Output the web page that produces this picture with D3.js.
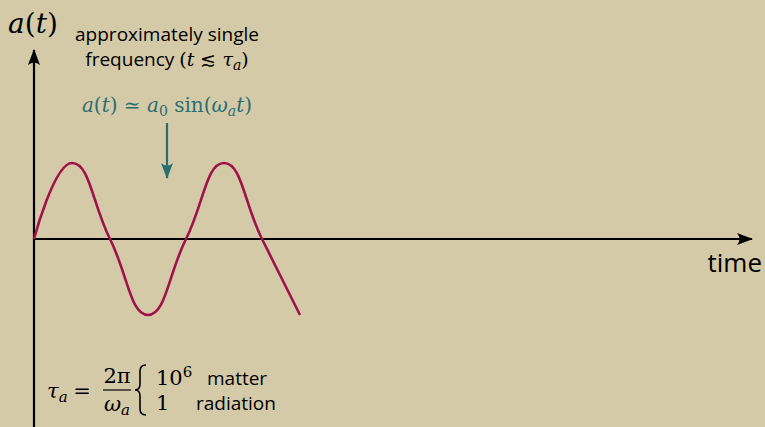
<!DOCTYPE html>
<html>
<head>
<meta charset="utf-8">
<script src="https://cdn.jsdelivr.net/npm/d3@7"></script>
<style>
  html, body { margin: 0; padding: 0; background: #d5caa8; }
  svg { display: block; }
  .sans { font-family: "Open Sans", "DejaVu Sans", sans-serif; }
  .math { font-family: "DejaVu Serif", "Liberation Serif", serif; }
</style>
</head>
<body>
<div id="chart"></div>
<script>
// sampled points of a(t), smooth plot through them
const tPoints = [0, 1, 2, 3, 4, 5, 6, 7];
const aPoints = [0, 1, 0, -1, 0, 1, 0, -1];

const axisLabels = { y: 'a(t)', x: 'time' };
const noteLines = ['approximately single', 'frequency'];
const caseValues = ['10', '1'];
const caseLabels = ['matter', 'radiation'];

const width = 765;
const height = 427;
const ink = '#000';
const curveColor = '#a0124b';
const teal = '#2a6e72';

const svg = d3.select('#chart')
.append('svg')
.attr('width', width)
.attr('height', height);

svg.append('rect')
.attr('width', width)
.attr('height', height)
.attr('fill', '#d5caa8');

const scaleX = d3.scaleLinear()
.domain([0, 7])
.range([34, 300]);

const scaleY = d3.scaleLinear()
.domain([-1, 1])
.range([315, 163]);

// arrow heads
const defs = svg.append('defs');
function marker(id, color) {
    defs.append('marker')
    .attr('id', id)
    .attr('viewBox', '0 0 16 12')
    .attr('refX', 15)
    .attr('refY', 6)
    .attr('markerWidth', 16)
    .attr('markerHeight', 12)
    .attr('markerUnits', 'userSpaceOnUse')
    .attr('orient', 'auto')
    .append('path')
    .attr('d', 'M0,0 Q5,6 0,12 L16,6 Z')
    .attr('fill', color);
}
marker('arrowBlack', ink);
marker('arrowTeal', teal);

// axes
const tMax = scaleX.invert(752);
const aTop = scaleY.invert(50);
const aBottom = scaleY.invert(height + 2);

svg.append('line')
.attr('x1', scaleX(0)).attr('y1', scaleY(0))
.attr('x2', scaleX(tMax)).attr('y2', scaleY(0))
.attr('stroke', ink)
.attr('stroke-width', 2.2)
.attr('marker-end', 'url(#arrowBlack)');

svg.append('line')
.attr('x1', scaleX(0)).attr('y1', scaleY(aBottom))
.attr('x2', scaleX(0)).attr('y2', scaleY(aTop))
.attr('stroke', ink)
.attr('stroke-width', 2.2)
.attr('marker-end', 'url(#arrowBlack)');

// the oscillation
const line = d3.line()
.x((d, i) => scaleX(tPoints[i]))
.y(d => scaleY(d))
.curve(d3.curveCardinal.tension(-0.4));

svg.append('path')
.attr('d', line(aPoints))
.attr('fill', 'none')
.attr('stroke', curveColor)
.attr('stroke-width', 2.6)
.attr('stroke-linejoin', 'round');

// axis labels
const yLab = svg.append('text')
.attr('class', 'math')
.attr('x', 8)
.attr('y', 33)
.attr('font-size', 28);
yLab.append('tspan').attr('font-style', 'italic').text('a');
yLab.append('tspan').text('(');
yLab.append('tspan').attr('font-style', 'italic').text('t');
yLab.append('tspan').text(')');

svg.append('text')
.attr('class', 'sans')
.attr('x', 762)
.attr('y', 272)
.attr('text-anchor', 'end')
.attr('font-size', 26)
.text(axisLabels.x);

// note above the arrow
const cx = 167;
svg.append('text')
.attr('class', 'sans')
.attr('x', cx)
.attr('y', 41)
.attr('text-anchor', 'middle')
.attr('font-size', 19)
.text(noteLines[0]);

const freq = svg.append('text')
.attr('x', cx)
.attr('y', 66)
.attr('text-anchor', 'middle')
.attr('font-size', 19);
freq.append('tspan').attr('class', 'sans').text(noteLines[1] + ' ');
freq.append('tspan').attr('class', 'math').text('(');
freq.append('tspan').attr('class', 'math').attr('font-style', 'italic').text('t');
freq.append('tspan').attr('class', 'math').text(' \u2272 ');
freq.append('tspan').attr('class', 'math').attr('font-style', 'italic').text('\u03c4');
freq.append('tspan').attr('class', 'math').attr('font-style', 'italic').attr('font-size', 14).attr('dy', 4).text('a');
freq.append('tspan').attr('class', 'math').attr('dy', -4).text(')');

const approx = svg.append('text')
.attr('class', 'math')
.attr('x', cx)
.attr('y', 112)
.attr('text-anchor', 'middle')
.attr('font-size', 20)
.attr('fill', teal);
approx.append('tspan').attr('font-style', 'italic').text('a');
approx.append('tspan').text('(');
approx.append('tspan').attr('font-style', 'italic').text('t');
approx.append('tspan').text(') \u2243 ');
approx.append('tspan').attr('font-style', 'italic').text('a');
approx.append('tspan').attr('font-size', 14).attr('dy', 4).text('0');
approx.append('tspan').attr('dy', -4).text(' sin(');
approx.append('tspan').attr('font-style', 'italic').text('\u03c9');
approx.append('tspan').attr('font-style', 'italic').attr('font-size', 14).attr('dy', 4).text('a');
approx.append('tspan').attr('font-style', 'italic').attr('dy', -4).text('t');
approx.append('tspan').text(')');

svg.append('line')
.attr('x1', cx).attr('y1', 123)
.attr('x2', cx).attr('y2', 178)
.attr('stroke', teal)
.attr('stroke-width', 2.2)
.attr('marker-end', 'url(#arrowTeal)');

// timescale formula
const g = svg.append('g').attr('class', 'math').attr('font-size', 21);

const tau = g.append('text').attr('x', 47).attr('y', 398);
tau.append('tspan').attr('font-style', 'italic').text('\u03c4');
tau.append('tspan').attr('font-style', 'italic').attr('font-size', 15).attr('dy', 4).text('a');
g.append('text').attr('x', 82).attr('y', 398).attr('text-anchor', 'middle').text('=');

g.append('text').attr('x', 117).attr('y', 383).attr('text-anchor', 'middle').text('2\u03c0');
g.append('line')
.attr('x1', 103).attr('x2', 131)
.attr('y1', 390).attr('y2', 390)
.attr('stroke', ink).attr('stroke-width', 1.2);
const den = g.append('text').attr('x', 117).attr('y', 411).attr('text-anchor', 'middle');
den.append('tspan').attr('font-style', 'italic').text('\u03c9');
den.append('tspan').attr('font-style', 'italic').attr('font-size', 15).attr('dy', 4).text('a');

// brace
g.append('path')
.attr('d', 'M146,365 Q140,365 140,371 L140,384 Q140,390 135,390 Q140,390 140,396 L140,409 Q140,415 146,415')
.attr('fill', 'none')
.attr('stroke', ink)
.attr('stroke-width', 1.6);

const rowY = [385, 410];
const first = g.append('text').attr('x', 156).attr('y', rowY[0]);
first.append('tspan').text(caseValues[0]);
first.append('tspan').attr('font-size', 15).attr('dy', -8).text('6');
g.append('text').attr('x', 156).attr('y', rowY[1]).text(caseValues[1]);

g.selectAll('.caseLabel')
.data(caseLabels)
.join('text')
.attr('class', 'caseLabel sans')
.attr('x', (d, i) => i === 0 ? 207 : 196)
.attr('y', (d, i) => rowY[i])
.attr('font-size', 19)
.text(d => d);
</script>
</body>
</html>
